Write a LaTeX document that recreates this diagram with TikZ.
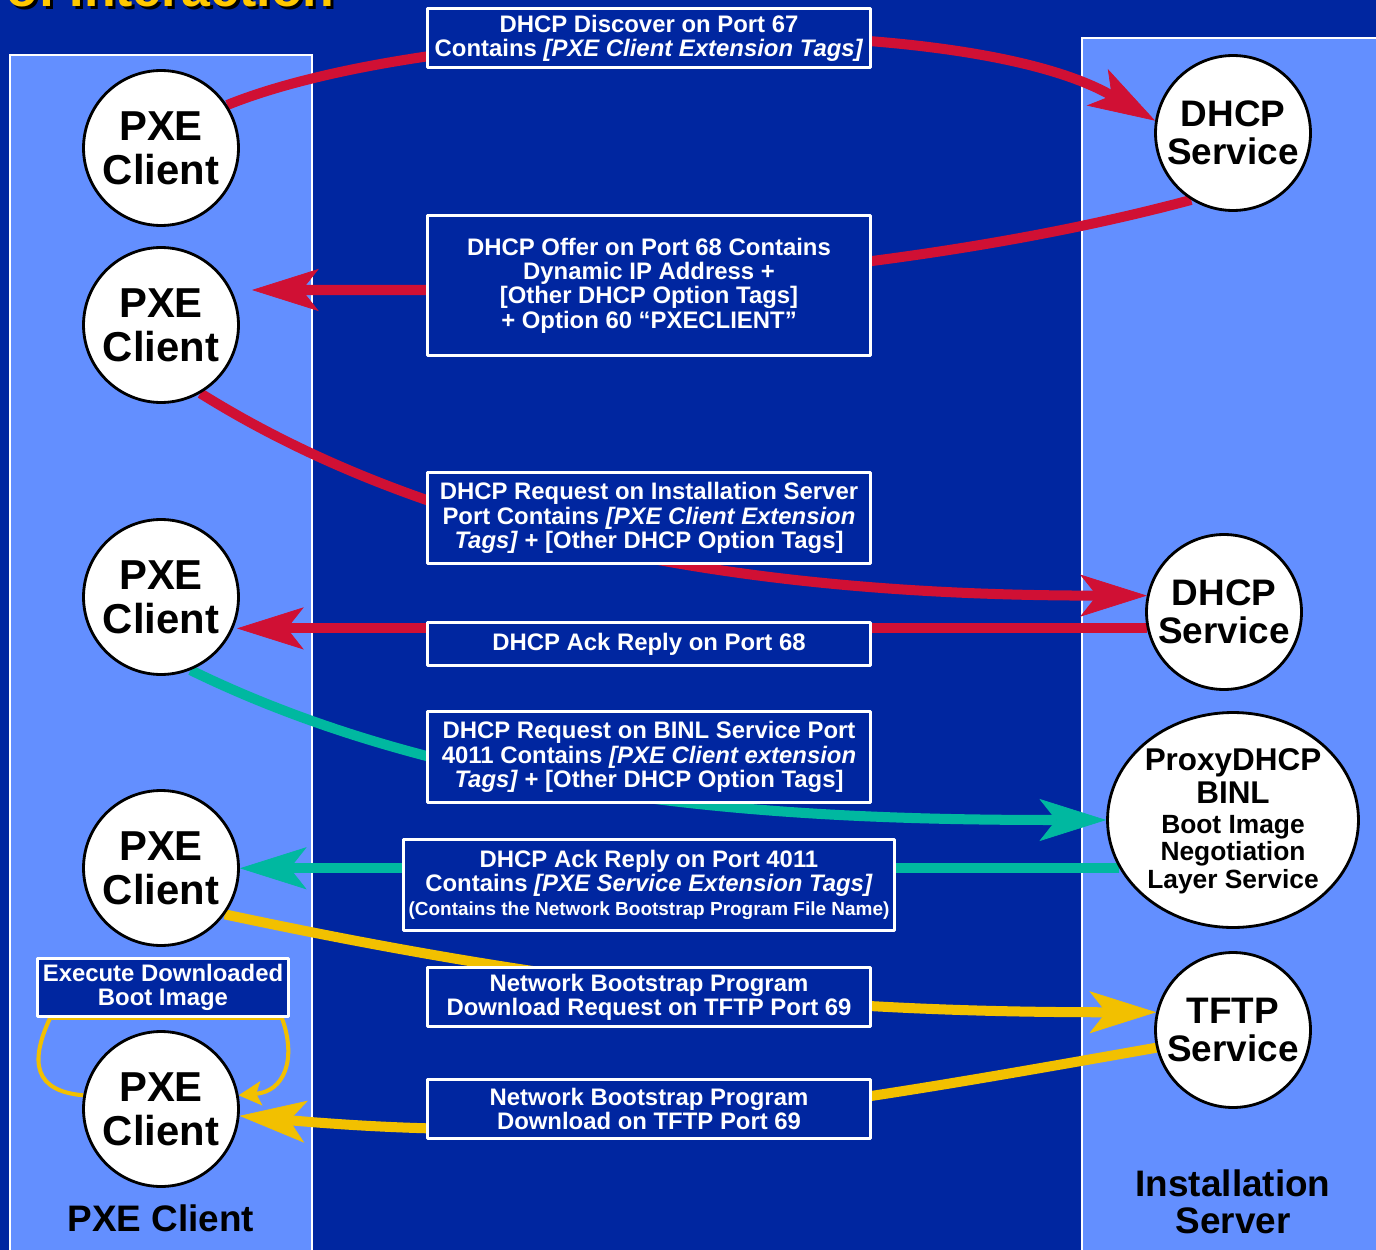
\documentclass[tikz,border=0pt]{standalone}
\usepackage{fontspec}
\setmainfont{Liberation Sans}
\usetikzlibrary{arrows.meta,shapes.geometric,calc}
\definecolor{bgblue}{RGB}{0,38,160}
\definecolor{colblue}{RGB}{99,143,255}
\definecolor{arred}{RGB}{208,16,52}
\definecolor{arteal}{RGB}{0,184,160}
\definecolor{aryell}{RGB}{242,192,0}
\definecolor{ttlyell}{RGB}{255,200,0}
\pgfdeclarelayer{bg}
\pgfdeclarelayer{arr}
\pgfsetlayers{bg,arr,main}
\tikzset{
  msg/.style={draw=white,fill=bgblue,line width=1.6pt,text=white,align=center,inner sep=0pt,
    font=\bfseries\fontsize{13.6}{13.8}\selectfont},
  party/.style={circle,draw=black,fill=white,line width=1.6pt,inner sep=0pt,minimum size=3.1cm,align=center},
  pxe/.style={party,font=\bfseries\fontsize{23.8}{25}\selectfont},
  srv/.style={party,font=\bfseries\fontsize{21}{21.5}\selectfont},
  flow/.style={line width=5.7pt,line cap=butt,-{Stealth[length=38pt,width=24pt,inset=9.5pt,line width=0.4pt]}},
  selfarr/.style={line width=2.3pt,line cap=butt,-{Stealth[length=13pt,width=14pt,inset=3pt,line width=0.4pt]}}
}

\begin{document}
\begin{tikzpicture}[line join=round,x=0.02cm,y=0.02cm]
    \useasboundingbox (0,0) rectangle (1376,-1250);
    \begin{pgfonlayer}{bg}
      \fill[bgblue] (0,0) rectangle (1376,-1250);
      \draw[white,line width=1.2pt,fill=colblue] (10,-55) rectangle (312,-1270);
      \draw[white,line width=1.2pt,fill=colblue] (1082,-38) rectangle (1400,-1270);
    \end{pgfonlayer}
    % title, cut off by the top edge
    \node[anchor=base west,inner sep=0pt,text=black,font=\bfseries\fontsize{29.5}{30}\selectfont] (ttls) at (9,-10) {of Interaction};
    \node[anchor=base west,inner sep=0pt,text=ttlyell,font=\bfseries\fontsize{29.5}{30}\selectfont] (ttl) at (6,-7) {of Interaction};
    % clients
    \node[pxe] (c1) at (161,-148) {PXE\\Client};
    \node[pxe] (c2) at (161,-325) {PXE\\Client};
    \node[pxe] (c3) at (161,-597) {PXE\\Client};
    \node[pxe] (c4) at (161,-868) {PXE\\Client};
    \node[pxe] (c5) at (161,-1109) {PXE\\Client};
    % server side
    \node[srv] (d1) at (1233,-133) {DHCP\\Service};
    \node[srv] (d2) at (1224,-612) {DHCP\\Service};
    \node[ellipse,draw=black,fill=white,line width=1.6pt,inner sep=0pt,minimum width=5.02cm,minimum height=4.3cm,
      align=center,font=\bfseries\fontsize{17.9}{18.7}\selectfont] (p1) at (1233,-820)
      {\\[-5pt]ProxyDHCP\\BINL\\[-1.7pt]{\fontsize{15}{15.5}\selectfont Boot Image}\\[-3.4pt]{\fontsize{15}{15.5}\selectfont Negotiation}\\[-2.8pt]{\fontsize{15}{15.5}\selectfont Layer Service}};
    \node[srv] (t1) at (1233,-1030) {TFTP\\Service};
    % messages
    \node[msg,minimum width=8.86cm,minimum height=1.18cm] (b1) at (649,-38)
      {DHCP Discover on Port 67\\Contains \textit{[PXE Client Extension Tags]}};
    \node[msg,minimum width=8.86cm,minimum height=2.8cm] (b2) at (649,-285.5)
      {DHCP Offer on Port 68 Contains\\Dynamic IP Address +\\{[Other DHCP Option Tags]}\\+ Option 60 “PXECLIENT”};
    \node[msg,minimum width=8.86cm,minimum height=1.82cm] (b3) at (649,-518)
      {DHCP Request on Installation Server\\Port Contains \textit{[PXE Client Extension}\\\textit{Tags]} + [Other DHCP Option Tags]};
    \node[msg,minimum width=8.86cm,minimum height=0.86cm] (b4) at (649,-644) {DHCP Ack Reply on Port 68};
    \node[msg,minimum width=8.86cm,minimum height=1.82cm] (b5) at (649,-757)
      {DHCP Request on BINL Service Port\\4011 Contains \textit{[PXE Client extension}\\\textit{Tags]} + [Other DHCP Option Tags]};
    \node[msg,minimum width=9.82cm,minimum height=1.82cm] (b6) at (649,-885)
      {DHCP Ack Reply on Port 4011\\Contains \textit{[PXE Service Extension Tags]}\\{\fontsize{10.8}{11}\selectfont (Contains the Network Bootstrap Program File Name)}};
    \node[msg,minimum width=8.86cm,minimum height=1.18cm] (b7) at (649,-997)
      {Network Bootstrap Program\\Download Request on TFTP Port 69};
    \node[msg,minimum width=8.86cm,minimum height=1.18cm] (b8) at (649,-1109)
      {Network Bootstrap Program\\Download on TFTP Port 69};
    \node[msg,minimum width=5.02cm,minimum height=1.16cm] (ex) at (163,-987.5)
      {Execute Downloaded\\Boot Image};
    % column labels
    \node[font=\bfseries\fontsize{21}{21}\selectfont] (lc) at (161,-1218) {PXE Client};
    \node[font=\bfseries\fontsize{21}{21}\selectfont,align=center] (ls) at (1233,-1202) {Installation\\Server};
    \coordinate (c2tip) at ($(c2.center)+(91,35)$);
    \coordinate (c3tip) at ($(c3.center)+(76,-31)$);
    \coordinate (lpl) at ($(ex.south west)+(14,0)$);
    \coordinate (lpr) at ($(ex.south east)+(-8,0)$);
    \begin{pgfonlayer}{arr}
      \draw[flow,arred] (c1.33) to[out=22,in=150,looseness=0.62] (d1.171);
      \draw[flow,arred] (d1.238) to[out=195,in=0,looseness=0.8] (b2.west |- c2tip) -- (c2tip);
      \draw[flow,arred] (c2.300) to[out=-32,in=180,looseness=0.85] (d2.168);
      \draw[flow,arred] (d2.192) -- (d2.192 -| c3tip);
      \draw[flow,arteal] (c3.292) to[out=-26,in=180,looseness=0.85] (p1.west);
      \draw[flow,arteal] (p1.203) -- (p1.203 -| c4.east);
      \draw[flow,aryell] (c4.324) to[out=-12,in=180,looseness=0.95] (t1.167);
      \draw[flow,aryell] (t1.193) to[out=190,in=-5] (c5.355);
      \draw[selfarr,aryell] (c5.170) to[out=175,in=-115,looseness=1.5] (lpl) -- (lpr) to[out=-70,in=5,looseness=1.3] (c5.10);
    \end{pgfonlayer}
\end{tikzpicture}
\end{document}
